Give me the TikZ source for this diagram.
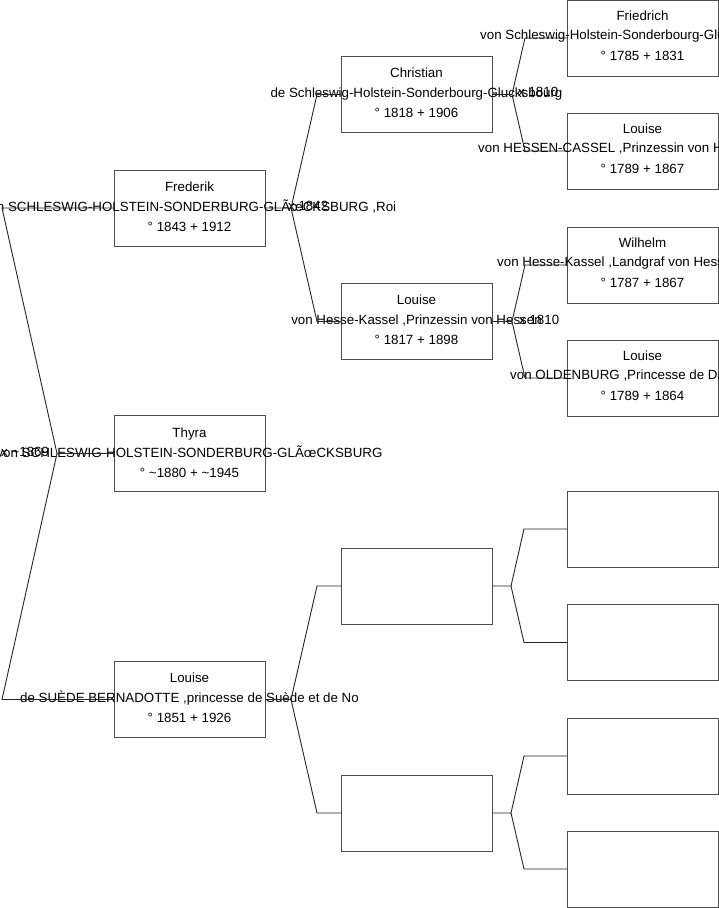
\documentclass[tikz,border=0pt]{standalone}
\usepackage{fontspec}
\setmainfont{Liberation Sans}
\begin{document}
\begin{tikzpicture}[x=1pt,y=-1pt,
  pbox/.style={draw=black!70, line width=1pt, minimum width=151pt, minimum height=76pt, inner sep=0pt, outer sep=0pt},
  ptxt/.style={align=center, font=\fontsize{13.33}{20}\selectfont, inner sep=0pt, text=black},
  pline/.style={anchor=west, font=\fontsize{13.33}{20}\selectfont, inner sep=0pt, text=black},
  link/.style={draw=black!85, line width=0.9pt},
  mlab/.style={anchor=west, font=\fontsize{13.33}{16}\selectfont, inner sep=0pt, text=black}]
\clip (0,0) rectangle (719,908);
\fill[white] (0,0) rectangle (719,908);
% column 1
\node[pbox] (fred) at (189.5,208) {};
\node[pbox] (thyra) at (189.5,453.5) {};
\node[pbox] (lou) at (189.5,699.5) {};
% column 2
\node[pbox] (chr) at (416.5,94.5) {};
\node[pbox] (louh) at (416.5,321.5) {};
\node[pbox] (e21) at (416.5,586) {};
\node[pbox] (e22) at (416.5,813) {};
% column 3
\node[pbox] (fri) at (642.5,38) {};
\node[pbox] (louhc) at (642.5,151) {};
\node[pbox] (wil) at (642.5,265) {};
\node[pbox] (louo) at (642.5,378) {};
\node[pbox] (e31) at (642.5,529) {};
\node[pbox] (e32) at (642.5,642.5) {};
\node[pbox] (e33) at (642.5,756) {};
\node[pbox] (e34) at (642.5,869) {};
% texts
\node[ptxt] (fredT) at (189.5,206.5) {Frederik\\von SCHLESWIG-HOLSTEIN-SONDERBURG-GLÃœCKSBURG ,Roi\\° 1843 + 1912};
\node[ptxt] (thyraT) at (189.5,453) {Thyra\\von SCHLESWIG-HOLSTEIN-SONDERBURG-GLÃœCKSBURG\\° \textasciitilde 1880 + \textasciitilde 1945};
\node[ptxt] (louT) at (189.5,697.5) {Louise\\de SUÈDE BERNADOTTE ,princesse de Suède et de No\\° 1851 + 1926};
\node[ptxt] (chrT) at (416.5,93) {Christian\\de Schleswig-Holstein-Sonderbourg-Glucksbourg\\° 1818 + 1906};
\node[ptxt] (louhT) at (416.5,319.5) {Louise\\von Hesse-Kassel ,Prinzessin von Hessen\\° 1817 + 1898};
% column 3 texts (middle line cut off at the right edge)
\node[ptxt] (friA) at (642.5,16) {Friedrich};
\node[pline] (friB) at (480,36) {von Schleswig-Holstein-Sonderbourg-Glucksbourg};
\node[ptxt] (friC) at (642.5,56) {° 1785 + 1831};
\node[ptxt] (louhcA) at (642.5,129) {Louise};
\node[pline] (louhcB) at (478,149) {von HESSEN-CASSEL ,Prinzessin von Hessen-Kassel};
\node[ptxt] (louhcC) at (642.5,169) {° 1789 + 1867};
\node[ptxt] (wilA) at (642.5,243) {Wilhelm};
\node[pline] (wilB) at (497,263) {von Hesse-Kassel ,Landgraf von Hesse-Kassel};
\node[ptxt] (wilC) at (642.5,283) {° 1787 + 1867};
\node[ptxt] (louoA) at (642.5,356) {Louise};
\node[pline] (louoB) at (510,376) {von OLDENBURG ,Princesse de Danemark};
\node[ptxt] (louoC) at (642.5,396) {° 1789 + 1864};
% marriage labels
\node[mlab] (m0) at (1,452) {x \textasciitilde 1869};
\node[mlab] (m1) at (288,206) {x 1842};
\node[mlab] (m2) at (518,92) {x 1810};
\node[mlab] (m3) at (519,319.5) {x 1810};
% connector points
\coordinate (v0) at (57,453.5);
\coordinate (v0a) at (2,208);
\coordinate (v0b) at (2,699.5);
\coordinate (v1) at (291,208);
\coordinate (v1a) at (317,94.5);
\coordinate (v1b) at (317,321.5);
\coordinate (v2) at (291,699.5);
\coordinate (v2a) at (317,586);
\coordinate (v2b) at (317,813);
\coordinate (v3) at (512,94.5);
\coordinate (v3a) at (525,38);
\coordinate (v3b) at (525,151);
\coordinate (v4) at (512,321.5);
\coordinate (v4a) at (525,265);
\coordinate (v4b) at (525,378);
\coordinate (v5) at (511,586);
\coordinate (v5a) at (524,529);
\coordinate (v5b) at (524,642.5);
\coordinate (v6) at (511,813);
\coordinate (v6a) at (524,756);
\coordinate (v6b) at (524,869);
% connectors
\draw[link] (thyra.west) -- (v0) -- (v0a) -- (fred.west);
\draw[link] (v0) -- (v0b) -- (lou.west);
\draw[link] (fred.east) -- (v1) -- (v1a) -- (chr.west);
\draw[link] (v1) -- (v1b) -- (louh.west);
\draw[link] (lou.east) -- (v2) -- (v2a) -- (e21.west);
\draw[link] (v2) -- (v2b) -- (e22.west);
\draw[link] (chr.east) -- (v3) -- (v3a) -- (fri.west);
\draw[link] (v3) -- (v3b) -- (louhc.west);
\draw[link] (louh.east) -- (v4) -- (v4a) -- (wil.west);
\draw[link] (v4) -- (v4b) -- (louo.west);
\draw[link] (e21.east) -- (v5) -- (v5a) -- (e31.west);
\draw[link] (v5) -- (v5b) -- (e32.west);
\draw[link] (e22.east) -- (v6) -- (v6a) -- (e33.west);
\draw[link] (v6) -- (v6b) -- (e34.west);
\end{tikzpicture}
\end{document}
